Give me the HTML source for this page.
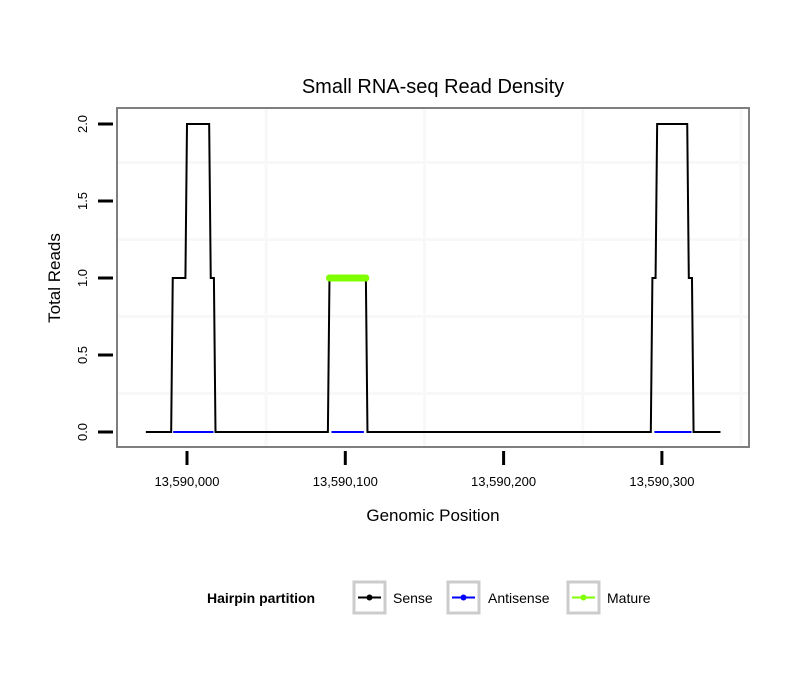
<!DOCTYPE html>
<html><head><meta charset="utf-8"><style>
html,body{margin:0;padding:0;background:#fff;overflow:hidden;width:810px;height:690px}
svg{display:block}
</style></head><body>
<svg id="c" width="810" height="690" xmlns="http://www.w3.org/2000/svg" font-family="Liberation Sans, sans-serif">
<rect width="810" height="690" fill="#fff"/>
<g id="plot"></g>
<text x="433" y="93" font-size="20" text-anchor="middle">Small RNA-seq Read Density</text>
<text x="433" y="521" font-size="17" text-anchor="middle">Genomic Position</text>
<text transform="translate(60,278) rotate(-90)" font-size="17" text-anchor="middle">Total Reads</text>
<g>
<text x="207" y="603" font-size="14" font-weight="bold">Hairpin partition</text>
<g>
<rect x="354" y="582" width="31" height="31" fill="#fff" stroke="#ccc" stroke-width="3"/>
<line x1="358" x2="381" y1="597.5" y2="597.5" stroke="#000" stroke-width="2"/><circle cx="369.5" cy="597.5" r="3" fill="#000"/>
<text x="393" y="603" font-size="14">Sense</text></g>
<g>
<rect x="448" y="582" width="31" height="31" fill="#fff" stroke="#ccc" stroke-width="3"/>
<line x1="452" x2="475" y1="597.5" y2="597.5" stroke="#0000ff" stroke-width="2"/><circle cx="463.5" cy="597.5" r="3" fill="#0000ff"/>
<text x="488" y="603" font-size="14">Antisense</text></g>
<g>
<rect x="568" y="582" width="31" height="31" fill="#fff" stroke="#ccc" stroke-width="3"/>
<line x1="572" x2="595" y1="597.5" y2="597.5" stroke="#7fff00" stroke-width="2"/><circle cx="583.5" cy="597.5" r="3" fill="#7fff00"/>
<text x="607" y="603" font-size="14">Mature</text></g>
</g>
</svg>
<script>
const senseX=[-26,-10,-9,-1,0,14,15,17,18,89,90,113,114,293,294,296,297,316,317,319,320,337];
const senseY=[0,0,1,1,2,2,1,1,0,0,1,1,0,0,1,1,2,2,1,1,0,0];
const antiSegs=[[-10,18],[90,113],[294,320]];
const matureSegs=[[90,113]];
const matureVal=[1];
const yTicks=[0,0.5,1,1.5,2];
const xTicks=[0,100,200,300];
const xTickLabels=["13,590,000","13,590,100","13,590,200","13,590,300"];
const ns="http://www.w3.org/2000/svg";
const g=document.getElementById('plot');
const X=v=>187+v*1.583;
const Y=v=>432-v*154;
function el(t,a){const e=document.createElementNS(ns,t);for(const k in a)e.setAttribute(k,a[k]);g.appendChild(e);return e;}
const L=117,R=749,T=108,B=447;
const bg=el('rect',{x:L,y:T,width:R-L,height:B-T,fill:'#fff'});


[-50,50,150,250,350].forEach(v=>{const x=X(v);if(x>L&&x<R){const l=el('line',{x1:x,x2:x,y1:T,y2:B,stroke:'#f8f8f8','stroke-width':3});

}});
[0.25,0.75,1.25,1.75].forEach(v=>{const l=el('line',{x1:L,x2:R,y1:Y(v),y2:Y(v),stroke:'#f8f8f8','stroke-width':3});

});
let d='';senseX.forEach((x,i)=>{d+=(i?'L':'M')+X(x)+','+Y(senseY[i]);});
const p=el('path',{d:d,fill:'none',stroke:'#000','stroke-width':2});


antiSegs.forEach(s=>{const l=el('line',{x1:X(s[0])+2,x2:X(s[1])-2,y1:Y(0),y2:Y(0),stroke:'#0000ff','stroke-width':2});

});
matureSegs.forEach((s,i)=>{const l=el('line',{x1:X(s[0]),x2:X(s[1]),y1:Y(matureVal[i]),y2:Y(matureVal[i]),stroke:'#7fff00','stroke-width':7,'stroke-linecap':'round'});

});
const bd=el('rect',{x:L,y:T,width:R-L,height:B-T,fill:'none',stroke:'#7f7f7f','stroke-width':2});


yTicks.forEach(v=>{const l=el('line',{x1:98,x2:113,y1:Y(v),y2:Y(v),stroke:'#000','stroke-width':3});


const t=el('text',{x:0,y:0,'font-size':13,'text-anchor':'middle',transform:`translate(87,${Y(v)}) rotate(-90)`});t.textContent=v.toFixed(1);

});
xTicks.forEach((v,i)=>{const l=el('line',{x1:X(v),x2:X(v),y1:451,y2:465,stroke:'#000','stroke-width':3});


const t=el('text',{x:X(v),y:486,'font-size':13,'text-anchor':'middle'});t.textContent=xTickLabels[i];

});
</script>
</body></html>
